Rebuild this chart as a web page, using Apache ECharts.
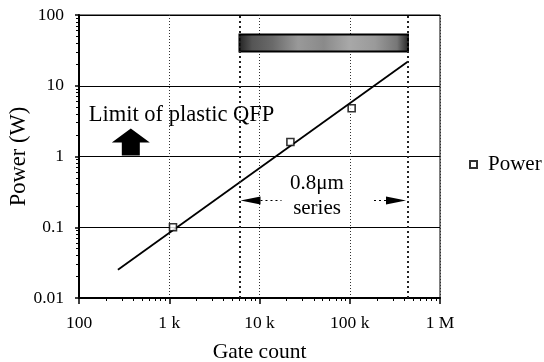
<!DOCTYPE html>
<html><head><meta charset="utf-8">
<script src="https://cdn.jsdelivr.net/npm/echarts@6/dist/echarts.min.js"></script>
<style>html,body{margin:0;padding:0;background:#fff;}#c{width:544px;height:362px;}</style>
</head><body><div id="c"></div>
<script>
const xTickValues = [100, 1000, 10000, 100000, 1000000];
const xTickLabels = ['100', '1 k', '10 k', '100 k', '1 M'];
const yTickValues = [0.01, 0.1, 1, 10, 100];
const yTickLabels = ['0.01', '0.1', '1', '10', '100'];
const gateCount = [1100, 22000, 105000];
const power = [0.1, 1.6, 4.8];
const fitGate = [270, 442000];
const fitPower = [0.025, 22];
const seriesRange = [6000, 442000];   // 0.8 µm series gate-count range
const qfpBand = [30.5, 53];           // shaded band (power)
const FONT = 'Liberation Serif';

function lookup(vals, labels, v) {
  const e = Math.round(Math.log10(v));
  for (let i = 0; i < vals.length; i++) if (Math.round(Math.log10(vals[i])) === e) return labels[i];
  return '';
}

const chart = echarts.init(document.getElementById('c'), null, {renderer: 'canvas'});
const option = {
  animation: false,
  backgroundColor: '#fff',
  textStyle: {fontFamily: FONT, color: '#000'},
  grid: {left: 79, right: 104, top: 15, bottom: 64, containLabel: false, outerBoundsMode: 'none',
    show: true, borderColor: '#000', borderWidth: 1, backgroundColor: 'transparent'},
  legend: {
    data: ['Power'], left: 464, top: 149, icon: 'rect', itemWidth: 7, itemHeight: 7,
    textStyle: {fontFamily: FONT, fontSize: 21, color: '#000', padding: [0, 0, 0, 6]}
  },
  xAxis: {
    type: 'log', logBase: 10, min: xTickValues[0], max: xTickValues[xTickValues.length - 1],
    name: 'Gate count', nameLocation: 'middle', nameGap: 43, nameMoveOverlap: false,
    nameTextStyle: {fontFamily: FONT, fontSize: 21.5, color: '#000'},
    axisLine: {lineStyle: {color: '#000', width: 2}},
    axisTick: {show: true, length: 6, lineStyle: {color: '#000', width: 1.5}},
    minorTick: {show: true, splitNumber: 9, length: 3, lineStyle: {color: '#000'}},
    axisLabel: {fontFamily: FONT, fontSize: 17.5, color: '#000', margin: 16,
      formatter: v => lookup(xTickValues, xTickLabels, v)},
    splitLine: {show: true, lineStyle: {color: '#333', width: 1, type: [1, 2]}}
  },
  yAxis: {
    type: 'log', logBase: 10, min: yTickValues[0], max: yTickValues[yTickValues.length - 1],
    name: 'Power (W)', nameLocation: 'middle', nameGap: 48, nameMoveOverlap: false,
    nameTextStyle: {fontFamily: FONT, fontSize: 22.5, color: '#000'},
    axisLine: {lineStyle: {color: '#000', width: 2}},
    axisTick: {show: true, length: 4, lineStyle: {color: '#000', width: 1.5}},
    minorTick: {show: true, splitNumber: 9, length: 3, lineStyle: {color: '#000'}},
    axisLabel: {fontFamily: FONT, fontSize: 17.5, color: '#000', margin: 15,
      formatter: v => lookup(yTickValues, yTickLabels, v)},
    splitLine: {show: true, lineStyle: {color: '#000', width: 1}}
  },
  series: [
    {
      name: 'fit', type: 'line', data: fitGate.map((g, i) => [g, fitPower[i]]),
      showSymbol: false, lineStyle: {color: '#000', width: 1.8}, z: 3,
      markLine: {
        silent: true, symbol: 'none', label: {show: false},
        lineStyle: {color: '#222', width: 2, type: [2, 3]},
        data: seriesRange.map(g => ({xAxis: g}))
      },
      markArea: {
        silent: true,
        itemStyle: {
          borderColor: '#000', borderWidth: 2,
          color: {type: 'linear', x: 0, y: 0, x2: 1, y2: 0, colorStops: [
            {offset: 0, color: '#222'}, {offset: 0.08, color: '#555'}, {offset: 0.2, color: '#6a6a6a'},
            {offset: 0.35, color: '#999'}, {offset: 0.5, color: '#8a8a8a'}, {offset: 0.65, color: '#a8a8a8'},
            {offset: 0.8, color: '#9a9a9a'}, {offset: 0.93, color: '#777'}, {offset: 1, color: '#222'}]}
        },
        data: [[{coord: [seriesRange[0], qfpBand[1]]}, {coord: [seriesRange[1], qfpBand[0]]}]]
      }
    },
    {
      name: 'Power', type: 'scatter', data: gateCount.map((g, i) => [g, power[i]]),
      symbol: 'rect', symbolSize: 7, z: 4,
      itemStyle: {color: '#fff', borderColor: '#000', borderWidth: 1.6}
    }
  ]
};
chart.setOption(option);

// annotations positioned in data coordinates
const P = (x, y) => chart.convertToPixel({gridIndex: 0}, [x, y]);
const qfpText = P(128, 4.1);
const arrowBase = P(375, 1);
const serText = P(43400, 0.28);
const arrowY = P(seriesRange[0], 0.239)[1];
const leftTip = P(seriesRange[0], 0.239)[0] + 1;
const rightTip = P(seriesRange[1], 0.239)[0] - 2;
const ax = arrowBase[0], ay = arrowBase[1] - 1;
chart.setOption({
  graphic: [
    {type: 'text', left: qfpText[0], top: qfpText[1] - 10,
      style: {text: 'Limit of plastic QFP', fontFamily: FONT, fontSize: 22.5, fill: '#000'}},
    {type: 'polygon', shape: {points: [
      [ax - 9, ay], [ax + 9, ay], [ax + 9, ay - 13], [ax + 19, ay - 13], [ax, ay - 27], [ax - 19, ay - 13], [ax - 9, ay - 13]]},
      style: {fill: '#000'}},
    {type: 'text', x: serText[0], y: serText[1],
      style: {text: '0.8\u03bcm\nseries', fontFamily: FONT, fontSize: 21, lineHeight: 25, fill: '#000', align: 'center', verticalAlign: 'middle'}},
    {type: 'polygon', shape: {points: [[leftTip, arrowY], [leftTip + 20, arrowY - 4], [leftTip + 20, arrowY + 4]]}, style: {fill: '#000'}},
    {type: 'line', shape: {x1: leftTip + 20, y1: arrowY, x2: leftTip + 41, y2: arrowY}, style: {stroke: '#000', lineWidth: 1.2, lineDash: [2, 3]}},
    {type: 'polygon', shape: {points: [[rightTip, arrowY], [rightTip - 20, arrowY - 4], [rightTip - 20, arrowY + 4]]}, style: {fill: '#000'}},
    {type: 'line', shape: {x1: rightTip - 20, y1: arrowY, x2: rightTip - 35, y2: arrowY}, style: {stroke: '#000', lineWidth: 1.2, lineDash: [2, 3]}}
  ]
});
</script></body></html>
